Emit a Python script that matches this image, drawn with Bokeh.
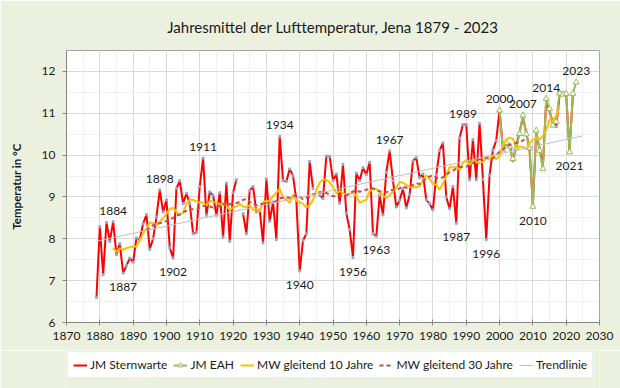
import numpy as np
from bokeh.plotting import figure
from bokeh.layouts import column
from bokeh.models import ColumnDataSource, Legend, LegendItem, Range1d, FixedTicker
from bokeh.embed import file_html
from bokeh.resources import INLINE

# ---------------- data ----------------
years_sw = list(range(1879, 2023))
temp_sw = [
    6.60, 8.29, 7.14, 8.39, 7.94, 8.41, 7.62, 7.88, 7.18, 7.36,   # 1879-1888
    7.54, 7.44, 8.02, 7.98, 8.36, 8.58, 7.75, 8.00, 8.52, 9.17,   # 1889-1898
    8.64, 8.93, 7.79, 7.54, 9.20, 9.39, 8.84, 9.09, 8.84, 8.12,   # 1899-1908
    8.15, 9.25, 9.93, 8.56, 9.12, 9.04, 8.56, 9.10, 8.04, 9.33,   # 1909-1918
    7.94, 9.10, 9.41, None, 8.60, 8.12, 9.15, 9.25, 8.64, 8.69,   # 1919-1928
    7.90, 9.43, 8.42, 8.88, 7.98, 10.45, 9.39, 9.37, 9.67, 9.51,  # 1929-1938
    8.92, 7.23, 7.96, 8.12, 9.85, 9.20, None, 9.04, 8.96, 9.98,   # 1939-1948
    9.97, 9.39, 9.55, 8.85, 9.78, 8.61, 8.22, 7.55, 9.57, 9.39,   # 1949-1958
    9.70, 9.53, 9.83, 8.12, 8.06, 9.04, 8.57, 9.59, 10.10, 9.39,  # 1959-1968
    8.76, 8.92, 9.20, 8.74, 9.05, 9.86, 9.94, 9.46, 9.55, 8.93,   # 1969-1978
    8.84, 8.69, 9.53, 10.11, 10.29, 9.00, 8.72, 9.25, 8.37, 10.41,  # 1979-1988
    10.73, 10.73, 9.41, 10.37, 9.41, 10.76, 9.42, 7.98, 9.52, 10.12,  # 1989-1998
    10.35, 11.07, 10.17, 10.26, 10.26, 9.86, 10.21, 10.55, 10.90, 10.55,  # 1999-2008
    10.12, 8.83, 10.53, 10.16, 9.72, 11.30, 11.05, 10.78, 10.68, 11.42,  # 2009-2018
    11.50, 11.41, 10.12, 11.42,                                      # 2019-2022
]
years_eah = list(range(2000, 2024))
temp_eah = [
    11.07, 10.12, 10.30, 10.21, 9.91, 10.17, 10.51, 10.95, 10.50, 10.17,  # 2000-2009
    8.77, 10.59, 10.11, 9.67, 11.35, 11.11, 10.71, 10.80, 11.48, 11.45,   # 2010-2019
    11.47, 10.07, 11.47, 11.74,                                           # 2020-2023
]
trend_years = [1879, 2025]
trend_temps = [7.94, 10.46]
mw_first_year = 1880          # the moving averages in the reference begin with 1880

labels_above = [1884, 1898, 1911, 1934, 1967, 1989, 2000, 2007, 2014, 2023]
labels_below = [1887, 1902, 1940, 1956, 1963, 1987, 1996, 2010, 2021]

x_ticks = list(range(1870, 2031, 10))
x_minor = list(range(1875, 2030, 10))
y_ticks = [6, 7, 8, 9, 10, 11, 12]
y_minor = [6.5, 7.5, 8.5, 9.5, 10.5, 11.5]

series_names = ["JM Sternwarte", "JM EAH", "MW gleitend 10 Jahre", "MW gleitend 30 Jahre", "Trendlinie"]

# ---------------- derived series ----------------
sw = np.array([np.nan if v is None else v for v in temp_sw], dtype=float)

# combined record (Sternwarte, continued by EAH) for the moving averages
comb_years = [y for y in years_sw if y >= mw_first_year]
comb_vals = [sw[years_sw.index(y)] for y in comb_years]
for y, v in zip(years_eah, temp_eah):
    if y not in comb_years:
        comb_years.append(y)
        comb_vals.append(v)
comb_vals = np.array(comb_vals, dtype=float)


def moving_mean(vals, yrs, window):
    before = window // 2 - 1          # window covers year-before .. year+(window-before-1)
    oy, ov = [], []
    for i in range(before, len(vals) - (window - before) + 1):
        oy.append(yrs[i])
        ov.append(float(np.nanmean(vals[i - before:i - before + window])))
    return oy, ov


mw10_y, mw10_v = moving_mean(comb_vals, comb_years, 10)
mw30_y, mw30_v = moving_mean(comb_vals, comb_years, 30)


def val_for(year):
    if year in years_eah and year > 2000:
        return temp_eah[years_eah.index(year)]
    return temp_sw[years_sw.index(year)]


src_above = ColumnDataSource(dict(x=labels_above, y=[val_for(y) for y in labels_above],
                                  t=[str(y) for y in labels_above]))
src_below = ColumnDataSource(dict(x=labels_below, y=[val_for(y) for y in labels_below],
                                  t=[str(y) for y in labels_below]))

FONT = "Lato"
TXT = "#1a1a1a"
BG = "#EBF1DE"

STY = dict(
    sw=dict(line_color="#FF0000", line_width=2),
    sw_pts=dict(marker="square", size=2, color="#8FAAD0"),
    eah=dict(line_color="#9BBB59", line_width=2),
    eah_pts=dict(marker="triangle", size=6, fill_color="white", line_color="#9BBB59", line_width=1),
    mw10=dict(line_color="#FFC000", line_width=2),
    mw30=dict(line_color="#C0504D", line_width=2, line_dash="4 3"),
    tr=dict(line_color="#BFBFBF", line_width=1),
)

p = figure(width=620, height=350, x_range=Range1d(1870, 2030), y_range=Range1d(6, 12.5),
           output_backend="svg", toolbar_location=None,
           min_border_left=66, min_border_right=21, min_border_top=50, min_border_bottom=28,
           background_fill_color="white", border_fill_color=BG)
p.outline_line_color = "#A6A6A6"

p.title.text = "Jahresmittel der Lufttemperatur, Jena 1879 - 2023"
p.title.align = "center"
p.title.text_font = FONT
p.title.text_font_size = "15px"
p.title.text_font_style = "normal"
p.title.text_color = TXT
p.title.standoff = 30

p.xaxis.ticker = FixedTicker(ticks=x_ticks, minor_ticks=x_minor)
p.yaxis.ticker = FixedTicker(ticks=y_ticks, minor_ticks=y_minor)
for ax in (p.xaxis[0], p.yaxis[0]):
    ax.axis_line_color = "#868686"
    ax.major_tick_line_color = "#868686"
    ax.minor_tick_line_color = None
    ax.major_label_text_font = FONT
    ax.major_label_text_font_size = "12px"
    ax.major_label_text_color = TXT
p.xaxis.major_tick_in = 3
p.xaxis.major_tick_out = 3
p.xaxis.major_label_standoff = 5
p.yaxis.major_tick_in = 0
p.yaxis.major_tick_out = 4
p.yaxis.major_label_standoff = 7
p.yaxis.axis_label = "Temperatur in °C"
p.yaxis.axis_label_text_font = FONT
p.yaxis.axis_label_text_font_size = "11.5px"
p.yaxis.axis_label_text_font_style = "bold"
p.yaxis.axis_label_text_color = TXT
p.yaxis.axis_label_standoff = 16

p.xgrid.grid_line_color = "#D9D9D9"
p.ygrid.grid_line_color = "#D9D9D9"
p.xgrid.minor_grid_line_color = "#F0F0F0"
p.ygrid.minor_grid_line_color = "#F0F0F0"

p.line(years_sw, sw, **STY["sw"])
p.scatter(years_sw, sw, **STY["sw_pts"])
p.line(years_eah, temp_eah, **STY["eah"])
p.scatter(years_eah, temp_eah, **STY["eah_pts"])
p.line(mw10_y, mw10_v, **STY["mw10"])
p.line(mw30_y, mw30_v, **STY["mw30"])
p.line(trend_years, trend_temps, **STY["tr"])

for src, off in ((src_above, -11), (src_below, 14)):
    p.text(x="x", y="y", text="t", source=src, y_offset=off, text_align="center",
           text_baseline="middle", text_font_size="12px", text_color=TXT,
           text_font={"value": FONT})

# ---------------- legend strip (same series, outside its visible range) ----------------
pl = figure(width=620, height=38, x_range=Range1d(0, 1), y_range=Range1d(0, 1),
            output_backend="svg", toolbar_location=None, x_axis_type=None, y_axis_type=None,
            min_border=0, background_fill_color=BG, border_fill_color=BG)
pl.outline_line_color = None
pl.xgrid.visible = False
pl.ygrid.visible = False
lr_sw = pl.line(years_sw, sw, **STY["sw"])
lr_eah = pl.line(years_eah, temp_eah, **STY["eah"])
lr_eah_pts = pl.scatter(years_eah, temp_eah, **STY["eah_pts"])
lr_mw10 = pl.line(mw10_y, mw10_v, **STY["mw10"])
lr_mw30 = pl.line(mw30_y, mw30_v, **STY["mw30"])
lr_tr = pl.line(trend_years, trend_temps, **STY["tr"])

legend = Legend(items=[
    LegendItem(label=series_names[0], renderers=[lr_sw]),
    LegendItem(label=series_names[1], renderers=[lr_eah, lr_eah_pts]),
    LegendItem(label=series_names[2], renderers=[lr_mw10]),
    LegendItem(label=series_names[3], renderers=[lr_mw30]),
    LegendItem(label=series_names[4], renderers=[lr_tr]),
], orientation="horizontal", location=(1, 10),
    label_text_font=FONT, label_text_font_size="12px", label_text_color=TXT,
    glyph_width=14, glyph_height=12, label_standoff=3, spacing=6, padding=5, margin=0,
    label_height=14, background_fill_color="white", border_line_color="#D3E2E8")
pl.add_layout(legend, "center")

page = column(p, pl, spacing=0)
open("out.html", "w").write(file_html(page, INLINE))
